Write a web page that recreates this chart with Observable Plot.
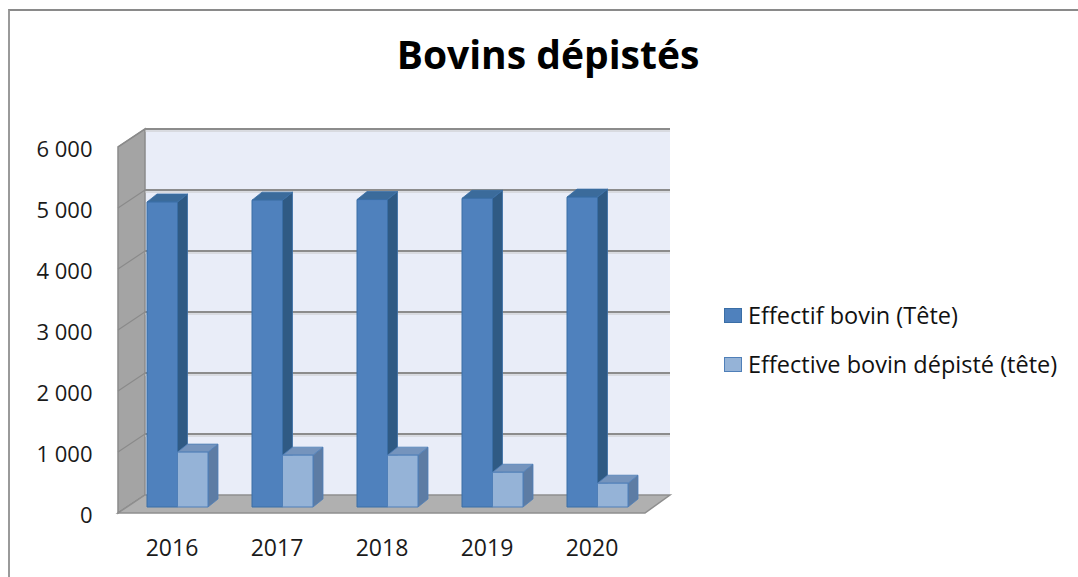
<!DOCTYPE html>
<html><head><meta charset="utf-8">
<script src="https://cdn.jsdelivr.net/npm/d3@7"></script>
<script src="https://cdn.jsdelivr.net/npm/@observablehq/plot@0.6"></script>
<style>
body{margin:0;background:#fff;font-family:"Open Sans",sans-serif;}
#wrap{position:relative;width:1078px;height:577px;overflow:hidden;background:#fff;}
#frame{position:absolute;left:8px;top:9px;width:1090px;height:590px;border-top:2px solid #8a8a8a;border-left:2px solid #9a9a9a;}
#title{position:absolute;left:0;top:30px;width:1096px;text-align:center;font-size:39px;font-weight:700;line-height:48px;color:#000;}
#chart{position:absolute;left:0;top:100px;}
.row{position:absolute;left:724px;display:flex;align-items:center;height:30px;font-size:23.5px;line-height:30px;color:#111;white-space:nowrap;}
.sw{width:18px;height:15px;margin-right:6px;box-sizing:border-box;}
</style>
</head><body>
<div id="wrap">
  <div id="frame"></div>
  <div id="title">Bovins dépistés</div>
  <div id="chart"></div>
  <div id="legend"></div>
</div>
<script>
// ---- data ----
const years = ["2016", "2017", "2018", "2019", "2020"];
const effectifBovin = [5000, 5030, 5040, 5060, 5080];
const bovinDepiste = [900, 850, 850, 570, 390];
const seriesNames = ["Effectif bovin (Tête)", "Effective bovin dépisté (tête)"];
const yTicks = [0, 1000, 2000, 3000, 4000, 5000, 6000];
const yTickLabels = ["0", "1\u00a0000", "2\u00a0000", "3\u00a0000", "4\u00a0000", "5\u00a0000", "6\u00a0000"];

const darkRows = years.map((year, i) => ({year, value: effectifBovin[i]}));
const lightRows = years.map((year, i) => ({year, value: bovinDepiste[i]}));

const darkColors = {front: "#4f81bd", side: "#2f5a84", top: "#3b6b9b", stroke: "#3a6ea6"};
const lightColors = {front: "#95b3d7", side: "#5d7ca4", top: "#7594bd", stroke: "#4f7fb8"};

function poly(pts) { return "M" + pts.map(p => p.join(",")).join("L") + "Z"; }

// walls, floor and grid, positioned with the y scale
const walls = Plot.ruleY(yTicks, {
  y: d => d,
  render: (index, scales) => {
    const y = scales.y;
    const g = d3.create("svg:g");
    const FX0 = 118, FX1 = 645, DX = 27, fOff = 6, DY = -18;
    const bx0 = FX0 + DX, bx1 = FX1 + DX - 2;
    const fy = v => y(v) + fOff;
    const by = v => y(v) + fOff + DY;
    g.append("path").attr("d", poly([[bx0, by(6000)], [bx1, by(6000)], [bx1, by(0)], [bx0, by(0)]]))
      .attr("fill", "#e9edf8");
    g.append("path").attr("d", poly([[FX0, fy(0)], [FX0, fy(6000)], [bx0, by(6000)], [bx0, by(0)]]))
      .attr("fill", "#a4a4a4").attr("stroke", "#8a8a8a").attr("stroke-width", 1.5);
    for (const v of yTicks) {
      g.append("path").attr("d", `M${FX0},${fy(v)}L${bx0},${by(v)}`)
        .attr("fill", "none").attr("stroke", "#8a8a8a").attr("stroke-width", 1.2);
      if (v > 0) {
        g.append("path").attr("d", `M${bx0},${by(v)}L${bx1},${by(v)}`)
          .attr("fill", "none").attr("stroke", "#8c8c8c").attr("stroke-width", 2);
        g.append("path").attr("d", `M${bx0},${by(v) + 2}L${bx1},${by(v) + 2}`)
          .attr("fill", "none").attr("stroke", "#c8c8c8").attr("stroke-width", 1);
      }
    }
    g.append("path").attr("d", poly([[FX0, fy(0)], [FX1, fy(0)], [bx1, by(0)], [bx0, by(0)]]))
      .attr("fill", "#b0b0b0").attr("stroke", "#8e8e8e").attr("stroke-width", 1.5);
    return g.node();
  }
});

function boxes(rows, slot, c) {
  return Plot.barY(rows, {
    x: "year", y: "value",
    render: (index, scales) => {
      const g = d3.create("svg:g");
      const sx = scales.x, sy = scales.y;
      let bw = sx.bandwidth;
      if (typeof bw === "function") bw = bw.call(sx);
      if (!(bw > 0)) bw = 61;
      const w = bw / 2, dx = 10, dy = -8;
      for (const i of index) {
        const d = rows[i];
        const x0 = sx(d.year) + slot * w, x1 = x0 + w;
        const yb = sy(0), yt = sy(d.value);
        g.append("path").attr("d", poly([[x1, yb], [x1 + dx, yb + dy], [x1 + dx, yt + dy], [x1, yt]]))
          .attr("fill", c.side).attr("stroke", c.stroke).attr("stroke-width", 0.8);
        g.append("path").attr("d", poly([[x0, yt], [x0 + dx, yt + dy], [x1 + dx, yt + dy], [x1, yt]]))
          .attr("fill", c.top).attr("stroke", c.stroke).attr("stroke-width", 0.8);
        g.append("path").attr("d", poly([[x0, yt], [x1, yt], [x1, yb], [x0, yb]]))
          .attr("fill", c.front).attr("stroke", c.stroke).attr("stroke-width", 1);
      }
      return g.node();
    }
  });
}

const chart = Plot.plot({
  width: 1078, height: 477,
  marginLeft: 100, marginRight: 0, marginTop: 20, marginBottom: 70,
  style: {fontFamily: "Open Sans", fontSize: "22px", color: "#1a1a1a", background: "transparent"},
  x: {type: "band", domain: years, range: [147, 628], paddingInner: 0.42, paddingOuter: 0, label: null},
  y: {domain: [0, 6000], range: [407, 41], label: null},
  marks: [
    walls,
    boxes(darkRows, 0, darkColors),
    boxes(lightRows, 1, lightColors),
    Plot.axisY({ticks: yTicks, tickSize: 0, tickPadding: 8, dy: 8, fontSize: 22, label: null,
      tickFormat: d => yTickLabels[yTicks.indexOf(d)]}),
    Plot.axisX({tickSize: 0, tickPadding: 32, dx: -6, fontSize: 23, label: null})
  ]
});
document.getElementById("chart").appendChild(chart);

// legend
const legend = document.getElementById("legend");
[[seriesNames[0], darkColors], [seriesNames[1], lightColors]].forEach(([name, c], i) => {
  const row = document.createElement("div");
  row.className = "row";
  row.style.top = (300 + i * 49) + "px";
  const sw = document.createElement("span");
  sw.className = "sw";
  sw.style.background = c.front;
  sw.style.border = "1px solid " + c.stroke;
  row.appendChild(sw);
  const t = document.createElement("span");
  t.textContent = name;
  row.appendChild(t);
  legend.appendChild(row);
});
</script>
</body></html>
